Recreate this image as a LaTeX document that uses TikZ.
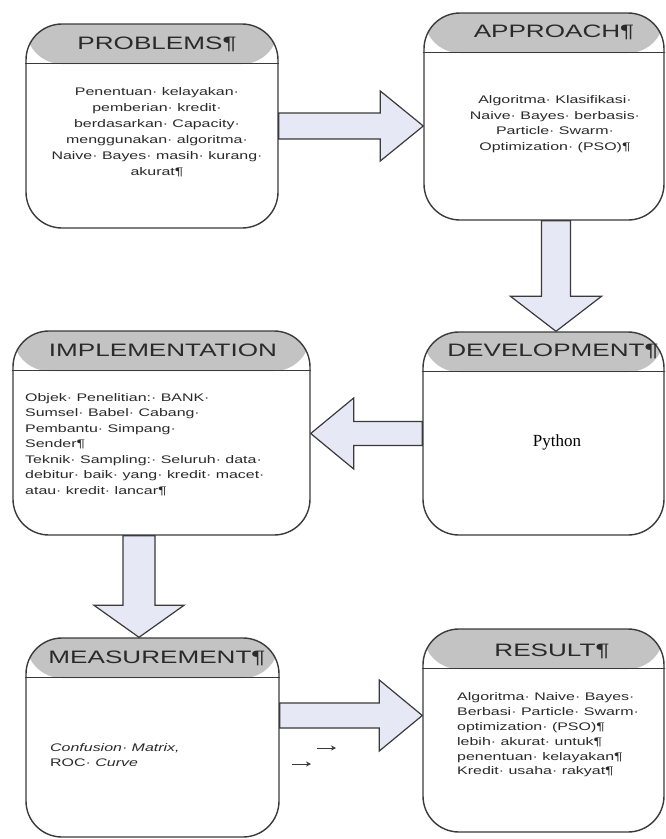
\documentclass[tikz,border=0pt]{standalone}
\usepackage{fontspec}
\setmainfont{Liberation Sans}[FakeStretch=1.45]
\newfontfamily\pyfont{Liberation Serif}
\usepackage{tikz}
\usetikzlibrary{arrows.meta, calc, positioning}

\definecolor{boxline}{HTML}{3A3A3A}
\definecolor{headgray}{HTML}{C3C3C3}
\definecolor{arrowfill}{HTML}{E6E8F5}
\definecolor{txtgray}{HTML}{2A2A2A}

\tikzset{
  stagebox/.style={draw=boxline, line width=1.4pt, rounded corners=36pt, fill=white,
    path picture={\fill[headgray] (path picture bounding box.north west) rectangle ([yshift=-40pt]path picture bounding box.north east);}},
  headtext/.style={font=\fontsize{18}{20}\selectfont, text=txtgray, inner sep=0pt},
  bodytext/.style={font=\fontsize{11}{15.5}\selectfont, text=txtgray, inner sep=0pt},
  blockarrow/.style={draw=boxline, line width=1.2pt, fill=arrowfill, line join=miter},
  smallarrow/.style={boxline, line width=1pt, -{Stealth[length=5pt, width=5pt]}},
}

\begin{document}
\begin{tikzpicture}[x=1pt, y=-1pt]
    \useasboundingbox (0,0) rectangle (666,839);

    % Stage boxes
    \node[stagebox, minimum width=252, minimum height=204] (prob) at (152,126) {};
    \node[stagebox, minimum width=240, minimum height=207] (appr) at (544,116.5) {};
    \node[stagebox, minimum width=297, minimum height=204] (impl) at (161.5,433) {};
    \node[stagebox, minimum width=241, minimum height=203] (dev) at (543.5,433.5) {};
    \node[stagebox, minimum width=253, minimum height=199] (meas) at (152.5,737.5) {};
    \node[stagebox, minimum width=241, minimum height=203] (res) at (543.5,730.5) {};
    \foreach \b in {prob, appr, impl, dev, meas, res} {
        \draw[boxline, line width=1.4pt] ([yshift=-40pt]\b.north west) -- ([yshift=-40pt]\b.north east);
    }

    % Headings
    \node[headtext] (probhead) at (157,44) {PROBLEMS¶};
    \node[headtext] (apprhead) at (554,32) {APPROACH¶};
    \node[headtext] (implhead) at (163,350) {IMPLEMENTATION};
    \node[headtext] (devhead) at (553,351) {DEVELOPMENT¶};
    \node[headtext] (meashead) at (157,658) {MEASUREMENT¶};
    \node[headtext] (reshead) at (552,651) {RESULT¶};

    % Box contents
    \node[bodytext, align=center, font=\fontsize{11}{16}\selectfont] (probtxt) at (157,132)
        {Penentuan· kelayakan·\\ pemberian· kredit·\\ berdasarkan· Capacity·\\
         menggunakan· algoritma·\\ Naive· Bayes· masih· kurang·\\ akurat¶};
    \node[bodytext, align=center] (apprtxt) at (555,124)
        {Algoritma· Klasifikasi·\\ Naive· Bayes· berbasis·\\ Particle· Swarm·\\ Optimization· (PSO)¶};
    \node[bodytext, align=left, anchor=west] (impltxt) at (25,444.5)
        {Objek· Penelitian:· BANK·\\ Sumsel· Babel· Cabang·\\ Pembantu· Simpang·\\ Sender¶\\
         Teknik· Sampling:· Seluruh· data·\\ debitur· baik· yang· kredit· macet·\\ atau· kredit· lancar¶};
    \node[font=\pyfont\fontsize{17}{20}\selectfont, inner sep=0pt] (devtxt) at (557,442) {Python};
    \node[bodytext, align=left, anchor=west] (meastxt) at (50,755)
        {\textit{Confusion· Matrix,}\\ ROC· \textit{Curve}};
    \node[bodytext, align=left, anchor=west, font=\fontsize{11}{14.8}\selectfont] (restxt) at (457,735)
        {Algoritma· Naive· Bayes·\\ Berbasi· Particle· Swarm·\\ optimization· (PSO)¶\\
         lebih· akurat· untuk¶\\ penentuan· kelayakan¶\\ Kredit· usaha· rakyat¶};

    % Block arrows
    \draw[blockarrow] let \p1=(prob.east), \p2=(appr.west) in
        (\x1,\y1+13pt) -- (\x2-43pt,\y1+13pt) -- (\x2-43pt,\y1+35pt) -- (\x2,\y1)
        -- (\x2-43pt,\y1-35pt) -- (\x2-43pt,\y1-13pt) -- (\x1,\y1-13pt) -- cycle;
    \draw[blockarrow] let \p1=($(appr.south)+(12,0)$), \p2=(dev.north) in
        (\x1-14.5pt,\y1) -- (\x1-14.5pt,\y2+35pt) -- (\x1-45.5pt,\y2+35pt) -- (\x1,\y2)
        -- (\x1+45.5pt,\y2+35pt) -- (\x1+14.5pt,\y2+35pt) -- (\x1+14.5pt,\y1) -- cycle;
    \draw[blockarrow] let \p1=(dev.west), \p2=(impl.east) in
        (\x1,\y1+12pt) -- (\x2+43pt,\y1+12pt) -- (\x2+43pt,\y1+35.5pt) -- (\x2,\y1)
        -- (\x2+43pt,\y1-35.5pt) -- (\x2+43pt,\y1-12pt) -- (\x1,\y1-12pt) -- cycle;
    \draw[blockarrow] let \p1=($(impl.south)+(-22.5,0)$), \p2=(meas.north) in
        (\x1-16pt,\y1) -- (\x1-16pt,\y2+32pt) -- (\x1-45pt,\y2+32pt) -- (\x1,\y2)
        -- (\x1+45pt,\y2+32pt) -- (\x1+16pt,\y2+32pt) -- (\x1+16pt,\y1) -- cycle;
    \draw[blockarrow] let \p1=($(meas.east)+(0,-22)$), \p2=(res.west) in
        (\x1,\y1+12.5pt) -- (\x2-43pt,\y1+12.5pt) -- (\x2-43pt,\y1+35.5pt) -- (\x2,\y1)
        -- (\x2-43pt,\y1-35.5pt) -- (\x2-43pt,\y1-12.5pt) -- (\x1,\y1-12.5pt) -- cycle;

    % Small arrows
    \coordinate (sa1) at (317,748);
    \coordinate (sa1e) at (336,748);
    \coordinate (sa2) at (292,764);
    \coordinate (sa2e) at (311,764);
    \draw[smallarrow] (sa1) -- (sa1e);
    \draw[smallarrow] (sa2) -- (sa2e);
\end{tikzpicture}
\end{document}
